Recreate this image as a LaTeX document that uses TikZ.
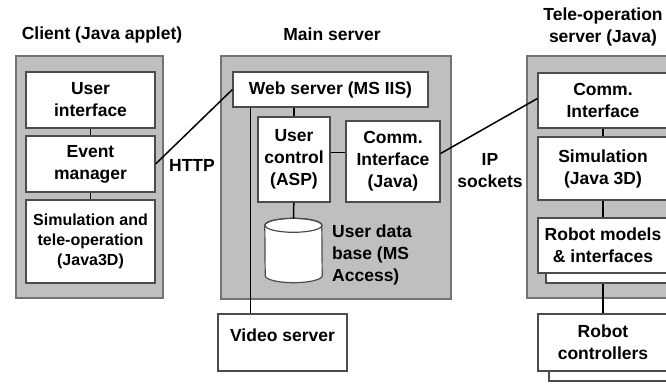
\documentclass[tikz,border=0pt]{standalone}
\usepackage{fontspec}
\setmainfont{Liberation Sans}
\usetikzlibrary{positioning, shadows}

\begin{document}
\begin{tikzpicture}[
  x=1pt, y=1pt,
  font=\bfseries\fontsize{17.5}{22}\selectfont,
  tier/.style={draw=black!55, fill=black!25, line width=1.2pt, inner sep=0pt},
  box/.style={draw=black!70, fill=white, line width=1.2pt, align=center, inner sep=0pt},
  stack/.style={box, copy shadow={draw=black!70, fill=white, line width=1.2pt, shadow xshift=#1, shadow yshift=-10pt}},
  ttl/.style={align=center, inner sep=0pt},
  ln/.style={line width=1.5pt},
  rim/.style={x radius=28.5pt, y radius=7pt}
]
  \useasboundingbox (0,0) rectangle (666,-385);
  % the three machines
  \node[tier, minimum width=147pt, minimum height=242pt] (client) at (89.5,-177) {};
  \node[tier, minimum width=230pt, minimum height=243pt] (main) at (336,-177.5) {};
  \node[tier, minimum width=160pt, minimum height=242pt] (tele) at (607,-177) {};
  \node[ttl] (clientttl) at (102,-35) {Client (Java applet)};
  \node[ttl] (mainttl) at (332,-34) {Main server};
  \node[ttl] (telettl) at (603,-27) {Tele-operation\\server (Java)};
  % client
  \node[box, minimum width=129pt, minimum height=56pt] (ui) at (90.5,-100) {User\\interface};
  \node[box, minimum width=129pt, minimum height=56pt] (evm) at (90.5,-164) {Event\\manager};
  \node[box, minimum width=129pt, minimum height=83pt, font=\bfseries\fontsize{16}{20}\selectfont] (sim) at (90.5,-241.5)
    {Simulation and\\tele-operation\\(Java3D)};
  % main server
  \node[box, minimum width=195pt, minimum height=35pt] (web) at (330.5,-89.5) {Web server (MS IIS)};
  \node[box, minimum width=72pt, minimum height=85pt] (uctl) at (294,-159.5) {User\\control\\(ASP)};
  \node[box, minimum width=94pt, minimum height=81pt] (comm) at (393,-161.5) {Comm.\\Interface\\(Java)};
  \node[minimum width=57pt, minimum height=64pt, inner sep=0pt] (db) at (293.5,-250.5) {};
  \filldraw[draw=black!70, fill=white, line width=1.2pt]
    ([yshift=-7pt]db.north west) arc[rim, start angle=180, end angle=0]
    -- ([yshift=7pt]db.south east) arc[rim, start angle=0, end angle=-180] -- cycle;
  \draw[black!70, line width=1.2pt] ([yshift=-7pt]db.north) ellipse[rim];
  \node[anchor=west, align=left, inner sep=0pt] (dbtxt) at (332,-255) {User data\\base (MS\\Access)};
  \node[box, minimum width=129pt, minimum height=57pt, text depth=14pt] (video) at (282.5,-342.5) {Video server};
  % tele-operation server
  \node[box, minimum width=130pt, minimum height=55pt] (tcomm) at (603,-100.5) {Comm.\\Interface};
  \node[box, minimum width=130pt, minimum height=63pt] (tsim) at (603,-168.5) {Simulation\\(Java 3D)};
  \node[stack=8pt, minimum width=130pt, minimum height=55pt] (rmod) at (603,-245.5) {Robot models\\\& interfaces};
  \node[stack=11pt, minimum width=130pt, minimum height=57pt] (rctl) at (603,-342.5) {Robot\\controllers};
  % links
  \draw[ln] (ui) -- (evm);
  \draw[ln] (evm) -- (sim);
  \draw[ln] (evm.east) -- (web.west);
  \node[ttl] (http) at (192,-165) {HTTP};
  \draw[ln] (uctl.north |- web.south) -- (uctl.north);
  \draw[ln] ([yshift=7pt]uctl.east) -- ([yshift=7pt]uctl.east -| comm.west);
  \draw[ln] (uctl) -- (db);
  \draw[ln] ([xshift=18pt]web.south west) -- ([xshift=18pt]web.south west |- video.north);
  \draw[ln] ([yshift=8pt]comm.east) -- ([yshift=2pt]tcomm.west);
  \node[ttl] (ip) at (490,-171) {IP\\sockets};
  \draw[ln] (tcomm) -- (tsim);
  \draw[ln] (tsim) -- (rmod);
  \draw[ln] ([yshift=-10pt]rmod.south) -- (rctl.north);
\end{tikzpicture}
\end{document}
